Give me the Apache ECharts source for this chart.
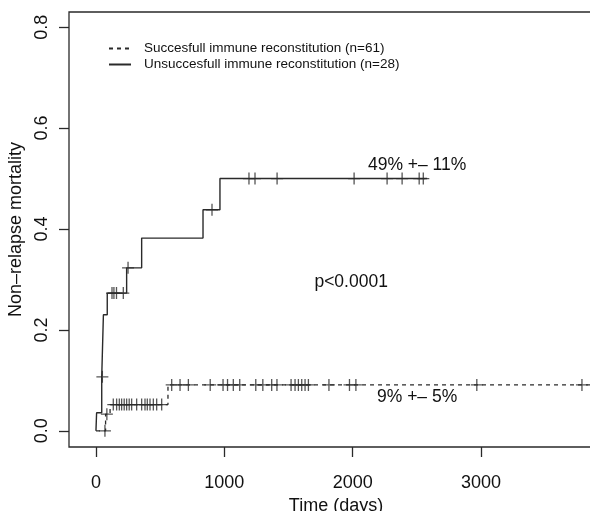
<!DOCTYPE html>
<html>
<head>
<meta charset="utf-8">
<script src="https://cdn.jsdelivr.net/npm/echarts@6/dist/echarts.min.js"></script>
<style>
  html, body { margin: 0; padding: 0; background: #fff; }
  #main { width: 590px; height: 511px; }
</style>
</head>
<body>
<div id="main"></div>
<script>
// Kaplan-Meier style curves (time in days, cumulative risk)
var solidName = 'Unsuccesfull immune reconstitution (n=28)';
var solidTimes = [0, 5, 45, 58, 88, 239, 356, 834, 966, 2580];
var solidRisk = [0, 0.036, 0.107, 0.23, 0.273, 0.323, 0.382, 0.438, 0.50, 0.50];
var solidCensor = [50, 125, 140, 160, 213, 250, 904, 1192, 1239, 1411, 2011, 2268, 2385, 2518, 2550];

var dashName = 'Succesfull immune reconstitution (n=61)';
var dashTimes = [0, 75, 110, 561, 3850];
var dashRisk = [0, 0.033, 0.052, 0.091, 0.091];
var dashCensor = [70, 85, 135, 161, 182, 200, 220, 239, 259, 278, 317, 356, 382, 400, 421, 447, 473, 512,
  590, 655, 720, 890, 990, 1025, 1070, 1120, 1245, 1300, 1369, 1410,
  1520, 1551, 1577, 1603, 1629, 1655, 1815, 1975, 2025, 2967, 3786];

var xTicks = [0, 1000, 2000, 3000];
var yTicks = [0, 0.2, 0.4, 0.6, 0.8];

// text notes: [time, risk, text]
var notes = [
  [2502, 0.527, '49% +\u2013 11%'],
  [2502, 0.067, '9% +\u2013 5%'],
  [1988, 0.295, 'p<0.0001']
];

var FONT = '"Liberation Sans", Arial, Helvetica, sans-serif';
var INK = '#2a2a2a';

function pairs(ts, vs) {
  var out = [];
  for (var i = 0; i < ts.length; i++) out.push([ts[i], vs[i]]);
  return out;
}
function stepValue(ts, vs, t) {// value of the step curve at time t
  var v = vs[0];
  for (var i = 0; i < ts.length; i++) {
    if (ts[i] <= t) v = vs[i];
  }
  return v;
}
function censorPoints(cs, ts, vs) {
  return cs.map(function (t) { return [t, stepValue(ts, vs, t)]; });
}

var plusSymbol = 'path://M5.35,0H6.65V12H5.35Z M0,5.35H12V6.65H0Z';

var chart = echarts.init(document.getElementById('main'), null, { renderer: 'canvas' });
var option = {
  backgroundColor: '#fff',
  animation: false,
  textStyle: { fontFamily: FONT },
  grid: {
    left: 69, top: 12, right: -13, bottom: 64,
    outerBoundsMode: 'none', containLabel: false,
    show: true, borderColor: INK, borderWidth: 1.3, backgroundColor: 'transparent'
  },
  legend: {
    orient: 'vertical',
    left: 103, top: 36,
    itemWidth: 22, itemHeight: 14, itemGap: 1,
    itemStyle: { opacity: 0 },
    data: [dashName, solidName],
    textStyle: { fontSize: 13.5, color: '#111', fontFamily: FONT, padding: [0, 0, 0, 8], lineHeight: 15 }
  },
  xAxis: {
    type: 'value', min: -210, max: 3950,
    name: 'Time (days)', nameLocation: 'middle', nameGap: 48,
    nameTextStyle: { fontSize: 18, color: '#111', fontFamily: FONT },
    axisLine: { show: false, onZero: false },
    axisTick: { show: true, inside: false, length: 10, customValues: xTicks, lineStyle: { color: INK, width: 1.3 } },
    axisLabel: {
      customValues: xTicks, fontSize: 18, color: '#111', margin: 27, fontFamily: FONT,
      formatter: function (v) { return String(v); }
    },
    splitLine: { show: false }
  },
  yAxis: {
    type: 'value', min: -0.032, max: 0.830,
    name: 'Non\u2013relapse mortality', nameLocation: 'middle', nameGap: 37, nameRotate: 90,
    nameTextStyle: { fontSize: 18, color: '#111', fontFamily: FONT },
    axisLine: { show: false, onZero: false },
    axisTick: { show: true, inside: false, length: 10, customValues: yTicks, lineStyle: { color: INK, width: 1.3 } },
    axisLabel: {
      customValues: yTicks, rotate: 90, fontSize: 18, color: '#111', margin: 18, fontFamily: FONT,
      formatter: function (v) { return v.toFixed(1); }
    },
    splitLine: { show: false }
  },
  series: [
    {
      name: dashName, type: 'line', step: 'end', symbol: 'none',
      data: pairs(dashTimes, dashRisk),
      lineStyle: { color: INK, width: 1.3, type: [4, 4] },
      itemStyle: { color: INK }
    },
    {
      name: solidName, type: 'line', step: 'end', symbol: 'none',
      data: pairs(solidTimes, solidRisk),
      lineStyle: { color: INK, width: 1.4 },
      itemStyle: { color: INK }
    },
    {
      name: 'dashCensor', type: 'scatter', symbol: plusSymbol, symbolSize: [12, 12],
      data: censorPoints(dashCensor, dashTimes, dashRisk),
      itemStyle: { color: INK }, silent: true
    },
    {
      name: 'solidCensor', type: 'scatter', symbol: plusSymbol, symbolSize: [12, 12],
      data: censorPoints(solidCensor, solidTimes, solidRisk),
      itemStyle: { color: INK }, silent: true
    }
  ]
};
chart.setOption(option);

// place the text notes through the chart's own scales
chart.setOption({
  graphic: notes.map(function (n) {
    var p = chart.convertToPixel({ gridIndex: 0 }, [n[0], n[1]]);
    return {
      type: 'text', x: p[0], y: p[1], silent: true,
      style: {
        text: n[2], fill: '#111', font: '17.5px ' + FONT,
        align: 'center', verticalAlign: 'middle'
      }
    };
  })
});
</script>
</body>
</html>
